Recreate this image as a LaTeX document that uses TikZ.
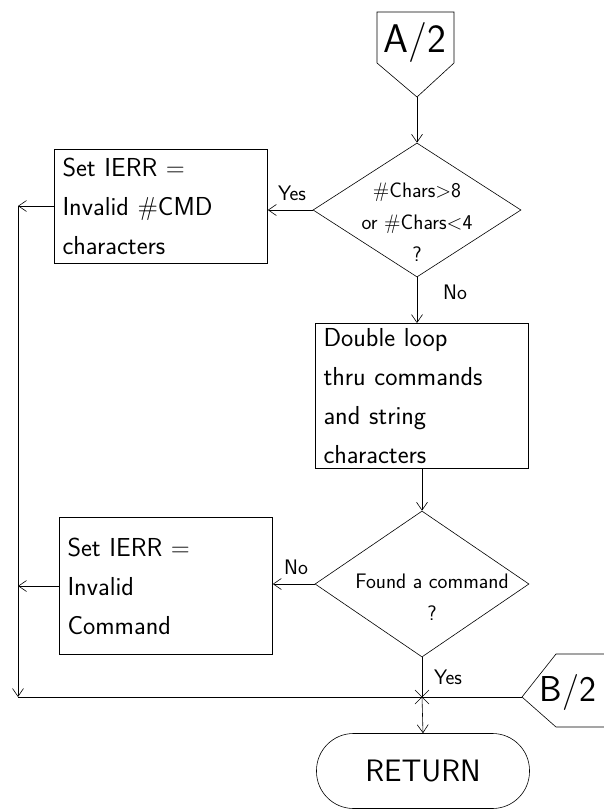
\documentclass[tikz,border=0pt]{standalone}
\usetikzlibrary{shapes.geometric,arrows.meta}
\begin{document}
\begin{tikzpicture}[x=1pt,y=-1pt,line width=0.6pt,
    >={Straight Barb[length=8pt,width=11pt]},
    procbox/.style={draw, minimum width=213pt, text width=197pt, align=left,
      inner sep=5pt, font=\sffamily\fontsize{26}{39}\selectfont},
    decision/.style={draw, diamond, inner sep=0pt},
    dtext/.style={font=\sffamily\fontsize{21}{32}\selectfont, align=center},
    lbl/.style={font=\sffamily\fontsize{21}{22}\selectfont}]
  \useasboundingbox (0,0) rectangle (604,811);

  % Off-page connectors
  \draw (377,12) -- (454,12) -- (454,63) -- (417,97) -- (377,63) -- cycle;
  \node[font=\sffamily\fontsize{40}{40}\selectfont] (a2t) at (415,42) {A/2};
  \coordinate (a2) at (417,97);
  \draw (604,654) -- (556,654) -- (522,697) -- (556,727) -- (604,727);
  \node[font=\sffamily\fontsize{36}{36}\selectfont, inner sep=0pt] (b2t) at (568,692) {B/2};
  \coordinate (b2c) at (522,697);

  % Decisions
  \node[decision, minimum width=208pt, minimum height=134pt] (d1) at (417,210) {};
  \node[dtext] (d1t) at (417,222) {\#Chars$>$8\\or \#Chars$<$4\\?};
  \node[decision, minimum width=214pt, minimum height=146pt] (d2) at (422,584) {};
  \node[dtext] (d2t) at (432,597) {Found a command\\?};

  % Process boxes
  \node[procbox, minimum height=114pt] (b1) at (161,206)
    {Set IERR =\\Invalid \#CMD\\characters};
  \node[procbox, minimum height=137pt] (b2) at (166,586)
    {Set IERR =\\Invalid\\Command};
  \node[procbox, minimum height=139pt] (b3) at (422,396)
    {Double loop\\thru commands\\and string\\characters};

  % Terminal
  \node[draw, rounded corners=37pt, minimum width=213pt, minimum height=75pt,
    font=\sffamily\fontsize{31}{31}\selectfont] (ret) at (423,771) {RETURN};

  % Junctions
  \coordinate (c1) at (18,206);
  \coordinate (c2) at (18,697);
  \coordinate (j) at (422,697);
  \draw (j) +(-7,-7) -- +(7,7) (j) +(-7,7) -- +(7,-7);

  % Connectors
  \draw[->] (a2) -- (d1.north);
  \draw[->] (d1.west) -- (d1.west -| b1.east);
  \node[lbl] at (292,193) {Yes};
  \draw[->] (d1.south) -- (d1.south |- b3.north);
  \node[lbl] at (455,292) {No};
  \draw[->] (b3.south) -- (d2.north);
  \draw[->] (d2.west) -- (d2.west -| b2.east);
  \node[lbl] at (296,567) {No};
  \draw (d2.south) -- (j);
  \node[lbl] at (448,677) {Yes};
  \draw[->] (b1.west) -- (b1.west -| c1);
  \draw[->] (b2.west) -- (b2.west -| c1);
  \draw[->] (c1) -- (c2);
  \draw (c2) -- (j);
  \draw (b2c) -- (j);
  \draw[->] (j) -- (ret.north);
\end{tikzpicture}
\end{document}
